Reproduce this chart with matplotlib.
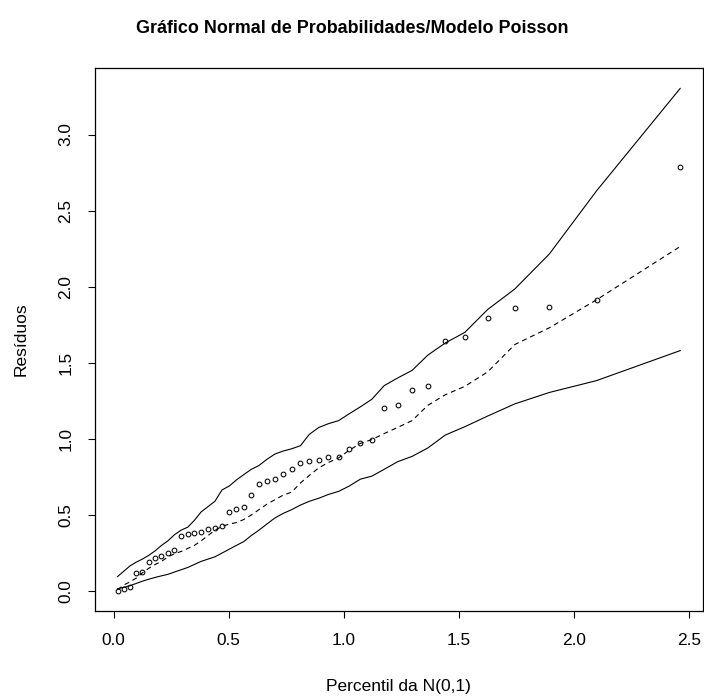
import numpy as np
from matplotlib import pyplot as plt

# 半正規プロット用のデータ
percentil = [0.017, 0.044, 0.071, 0.098, 0.125, 0.153, 0.181, 0.208, 0.236, 0.264,
             0.293, 0.322, 0.351, 0.380, 0.410, 0.440, 0.471, 0.502, 0.533, 0.565,
             0.598, 0.631, 0.665, 0.700, 0.736, 0.773, 0.811, 0.850, 0.891, 0.933,
             0.977, 1.023, 1.071, 1.121, 1.175, 1.233, 1.296, 1.364, 1.440, 1.525,
             1.624, 1.742, 1.892, 2.097, 2.460]

residuos = [0.003, 0.013, 0.024, 0.120, 0.127, 0.190, 0.220, 0.230, 0.250, 0.270,
            0.364, 0.375, 0.384, 0.390, 0.408, 0.417, 0.430, 0.522, 0.542, 0.555,
            0.630, 0.706, 0.720, 0.735, 0.772, 0.800, 0.840, 0.854, 0.862, 0.878,
            0.878, 0.933, 0.972, 0.990, 1.203, 1.224, 1.321, 1.350, 1.641, 1.672,
            1.793, 1.859, 1.868, 1.914, 2.787]

env_sup = [0.095, 0.130, 0.165, 0.190, 0.210, 0.235, 0.265, 0.300, 0.330, 0.370,
           0.400, 0.420, 0.465, 0.520, 0.555, 0.590, 0.665, 0.690, 0.730, 0.765,
           0.800, 0.825, 0.865, 0.900, 0.920, 0.935, 0.955, 1.030, 1.075, 1.100,
           1.120, 1.165, 1.210, 1.260, 1.350, 1.400, 1.450, 1.550, 1.630, 1.700,
           1.850, 1.985, 2.215, 2.630, 3.303]

env_med = [0.008, 0.040, 0.060, 0.085, 0.120, 0.150, 0.175, 0.195, 0.225, 0.245,
           0.260, 0.280, 0.300, 0.330, 0.365, 0.400, 0.425, 0.440, 0.450, 0.470,
           0.500, 0.535, 0.570, 0.600, 0.630, 0.650, 0.710, 0.760, 0.810, 0.845,
           0.875, 0.925, 0.970, 0.995, 1.035, 1.075, 1.120, 1.220, 1.290, 1.345,
           1.440, 1.620, 1.730, 1.914, 2.264]

env_inf = [0.015, 0.025, 0.035, 0.050, 0.065, 0.078, 0.090, 0.100, 0.110, 0.125,
           0.140, 0.155, 0.175, 0.195, 0.210, 0.225, 0.250, 0.275, 0.300, 0.325,
           0.365, 0.400, 0.440, 0.480, 0.510, 0.535, 0.565, 0.590, 0.610, 0.635,
           0.655, 0.690, 0.735, 0.755, 0.800, 0.850, 0.885, 0.940, 1.025, 1.080,
           1.150, 1.230, 1.305, 1.383, 1.580]

xticks = [0.0, 0.5, 1.0, 1.5, 2.0, 2.5]
yticks = [0.0, 0.5, 1.0, 1.5, 2.0, 2.5, 3.0]

plt.rcParams['font.family'] = ['Liberation Sans', 'DejaVu Sans']

fig = plt.figure(figsize=(7.04, 6.99), dpi=100)
ax = fig.add_axes([95 / 704, (699 - 610.7) / 699, (702.7 - 95) / 704, (610.7 - 68.3) / 699])

# 包絡線と点
ax.plot(percentil, env_sup, color='black', lw=0.8)
ax.plot(percentil, env_inf, color='black', lw=0.8)
ax.plot(percentil, env_med, color='black', lw=0.8, dashes=(4.5, 3.5))
ax.plot(percentil, residuos, 'o', mfc='none', mec='black', ms=3.4, mew=0.75)

# Rの既定の余白（4%）
xr = max(percentil) - min(percentil)
yr = max(env_sup) - min(residuos)
ax.set_xlim(min(percentil) - 0.04 * xr, max(percentil) + 0.04 * xr)
ax.set_ylim(min(residuos) - 0.04 * yr, max(env_sup) + 0.04 * yr)

ax.set_xticks(xticks)
ax.set_yticks(yticks)
ax.set_xticklabels([f'{v:.1f}' for v in xticks])
ax.set_yticklabels([f'{v:.1f}' for v in yticks], rotation=90, va='center')
ax.tick_params(length=5.2, width=0.8, labelsize=12.4, pad=10.5, colors='black')
for s in ax.spines.values():
    s.set_linewidth(0.9)

fig.text(0.5, 1 - 28.5 / 699, 'Gráfico Normal de Probabilidades/Modelo Poisson',
         ha='center', va='center', fontsize=12.9, fontweight='bold')
fig.text(398.9 / 704, 12 / 699, 'Percentil da N(0,1)', ha='center', va='center', fontsize=12.5)
fig.text(21 / 704, 1 - 339.5 / 699, 'Resíduos', ha='center', va='center', rotation=90, fontsize=12.5)

fig.savefig('out.png', dpi=100)
